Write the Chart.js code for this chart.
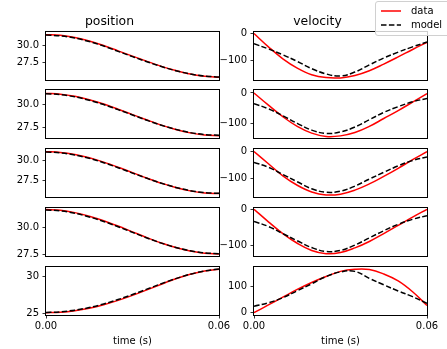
<!DOCTYPE html>
<html>
<head>
<meta charset="utf-8">
<script src="https://cdn.jsdelivr.net/npm/chart.js@4.4.0/dist/chart.umd.min.js"></script>
<style>
    body { margin: 0; width: 447px; height: 349px; overflow: hidden; background: #fff; position: relative; font-family: 'DejaVu Sans', sans-serif; }
    .box { position: absolute; }
    #legend { position: absolute; left: 375px; top: 1px; width: 76px; height: 33px; border: 1px solid #d0d0d0; border-radius: 3px; background: rgba(255,255,255,0.8); z-index: 5; font-size: 10px; color: #000; }
    .entry svg { position: absolute; left: 5px; }
    .entry span { position: absolute; left: 35px; line-height: 12px; white-space: nowrap; }
</style>
</head>
<body>
<div id="legend"></div>
<script>
// time axis shared by all panels
const times = [0, 0.005, 0.01, 0.015, 0.02, 0.025, 0.03, 0.035, 0.04, 0.045, 0.05, 0.055, 0.06];
const timeTicks = [0, 0.06];
const timeTickLabels = ["0.00", "0.06"];

const seriesNames = ["data", "model"];
const columnTitles = ["position", "velocity"];

// position panels (left column)
const posData1 = [31.50, 31.40, 31.10, 30.60, 29.95, 29.20, 28.45, 27.70, 27.00, 26.40, 25.90, 25.60, 25.45];
const posModel1 = [31.45, 31.33, 31.02, 30.52, 29.88, 29.13, 28.38, 27.65, 26.97, 26.38, 25.92, 25.62, 25.50];
const posData2 = [31.25, 31.17, 30.93, 30.55, 30.07, 29.50, 28.90, 28.30, 27.73, 27.25, 26.87, 26.63, 26.55];
const posModel2 = [31.22, 31.12, 30.87, 30.49, 30.01, 29.45, 28.86, 28.27, 27.72, 27.26, 26.90, 26.68, 26.60];
const posData3 = [31.08, 30.99, 30.73, 30.32, 29.78, 29.15, 28.47, 27.80, 27.17, 26.63, 26.21, 25.95, 25.87];
const posModel3 = [31.05, 30.94, 30.67, 30.25, 29.71, 29.09, 28.42, 27.77, 27.16, 26.64, 26.24, 25.99, 25.91];
const posData4 = [31.70, 31.63, 31.42, 31.09, 30.67, 30.17, 29.63, 29.09, 28.59, 28.17, 27.84, 27.63, 27.56];
const posModel4 = [31.67, 31.58, 31.36, 31.02, 30.60, 30.11, 29.58, 29.06, 28.58, 28.18, 27.87, 27.67, 27.60];
const posData5 = [25.05, 25.12, 25.33, 25.67, 26.15, 26.75, 27.44, 28.19, 28.97, 29.72, 30.35, 30.81, 31.05];
const posModel5 = [25.08, 25.17, 25.40, 25.75, 26.25, 26.86, 27.55, 28.30, 29.05, 29.75, 30.35, 30.80, 31.08];

// velocity panels (right column)
const velData1 = [0, -50, -95, -130, -155, -166, -167, -158, -140, -115, -88, -60, -33];
const velModel1 = [-38, -58, -80, -105, -132, -152, -160, -145, -118, -92, -70, -50, -32];
const velData2 = [0, -40, -78, -110, -132, -143, -141, -130, -110, -84, -58, -30, -2];
const velModel2 = [-35, -52, -75, -100, -122, -133, -128, -112, -88, -64, -45, -29, -18];
const velData3 = [0, -45, -90, -125, -150, -161, -158, -143, -120, -92, -62, -30, 0];
const velModel3 = [-40, -58, -85, -112, -138, -151, -147, -128, -102, -77, -53, -33, -20];
const velData4 = [0, -35, -68, -95, -115, -124, -121, -108, -90, -68, -45, -22, 0];
const velModel4 = [-34, -48, -68, -88, -107, -118, -115, -100, -80, -60, -42, -28, -18];
const velData5 = [0, 30, 60, 90, 117, 140, 160, 168, 167, 150, 123, 81, 28];
const velModel5 = [25, 38, 58, 85, 112, 140, 158, 160, 133, 108, 84, 62, 36];

// axis limits and ticks per row
const posMin = [25.06, 26.3, 25.45, 27.38, 24.73];
const posMax = [31.88, 31.63, 31.41, 31.85, 31.35];
const posTicks = [[27.5, 30], [27.5, 30], [27.5, 30], [27.5, 30], [25, 30]];
const posTickLabels = [["27.5", "30.0"], ["27.5", "30.0"], ["27.5", "30.0"], ["27.5", "30.0"], ["25", "30"]];

const velMin = [-175, -148, -168.6, -130.6, -9];
const velMax = [6, 9.7, 9.7, 3.6, 177];
const velTicks = [[-100, 0], [-100, 0], [-100, 0], [-100, 0], [0, 100]];
const velTickLabels = [["\u2212100", "0"], ["\u2212100", "0"], ["\u2212100", "0"], ["\u2212100", "0"], ["0", "100"]];

const posDataRows = [posData1, posData2, posData3, posData4, posData5];
const posModelRows = [posModel1, posModel2, posModel3, posModel4, posModel5];
const velDataRows = [velData1, velData2, velData3, velData4, velData5];
const velModelRows = [velModel1, velModel2, velModel3, velModel4, velModel5];

// layout of the grid
const rowTops = [32, 90, 149, 208, 267];
const plotHeight = 48;
const plotWidth = 173;
const axisWidth = 46;
const colLeft = [0, 208];
const colWidth = [233, 239];

Chart.defaults.font.family = "'DejaVu Sans', sans-serif";
Chart.defaults.font.size = 10;
Chart.defaults.color = '#000';

const framePlugin = {
    id: 'frame',
    afterDatasetsDraw(chart) {
        let a = chart.chartArea;
        let ctx = chart.ctx;
        ctx.save();
        ctx.strokeStyle = '#000';
        ctx.lineWidth = 1;
        ctx.strokeRect(a.left - 0.5, a.top - 0.5, a.right - a.left + 1, a.bottom - a.top + 1);
        ctx.restore();
    }
};

function toPoints(values) {
    return values.map((v, i) => ({x: times[i], y: v}));
}

function tickGrid() {
    return {display: true, drawOnChartArea: false, drawTicks: true, tickLength: 3.5, color: '#000', lineWidth: 0.8};
}

function makeChart(row, col) {
    let isPos = col === 0;
    let last = row === rowTops.length - 1;
    let top = rowTops[row];
    let canvasTop = row === 0 ? 0 : top - 12;
    let canvasBottom = last ? 349 : top + plotHeight + 12;

    let box = document.createElement('div');
    box.className = 'box';
    box.style.left = colLeft[col] + 'px';
    box.style.top = canvasTop + 'px';
    box.style.width = colWidth[col] + 'px';
    box.style.height = (canvasBottom - canvasTop) + 'px';
    let canvas = document.createElement('canvas');
    box.appendChild(canvas);
    document.body.appendChild(box);

    let dataVals = isPos ? posDataRows[row] : velDataRows[row];
    let modelVals = isPos ? posModelRows[row] : velModelRows[row];
    let yTicks = isPos ? posTicks[row] : velTicks[row];
    let yLabels = isPos ? posTickLabels[row] : velTickLabels[row];
    let smooth = isPos ? {cubicInterpolationMode: 'monotone'} : {tension: 0.4};

    let xScale = {
        type: 'linear',
        min: 0,
        max: 0.06,
        display: last,
        afterBuildTicks: s => { s.ticks = timeTicks.map(v => ({value: v})); },
        ticks: {autoSkip: false, maxRotation: 0, padding: 2, callback: (v, i) => timeTickLabels[i]},
        grid: tickGrid(),
        border: {display: false},
        title: {display: true, text: 'time (s)', font: {size: 10}, padding: {top: 0, bottom: 1.5}}
    };
    if (last) {
        xScale.afterFit = s => { s.height = 349 - (top + plotHeight); };
    }

    new Chart(canvas.getContext('2d'), {
        type: 'line',
        data: {
            datasets: [
                Object.assign({
                    label: seriesNames[0],
                    data: toPoints(dataVals),
                    borderColor: '#ff0000',
                    borderWidth: 1.5,
                    pointRadius: 0,
                    fill: false,
                    order: 1
                }, smooth),
                Object.assign({
                    label: seriesNames[1],
                    data: toPoints(modelVals),
                    borderColor: '#000000',
                    borderWidth: 1.5,
                    borderDash: [5.5, 2.4],
                    pointRadius: 0,
                    fill: false,
                    order: 0
                }, smooth)
            ]
        },
        options: {
            responsive: true,
            maintainAspectRatio: false,
            animation: false,
            events: [],
            layout: {
                padding: {
                    left: 0,
                    right: colWidth[col] - axisWidth - plotWidth,
                    top: row === 0 ? 0 : 12,
                    bottom: last ? 0 : 12
                }
            },
            plugins: {
                legend: {display: false},
                tooltip: {enabled: false},
                title: {
                    display: row === 0,
                    text: columnTitles[col],
                    color: '#000',
                    font: {size: 12.4, weight: 'normal', lineHeight: 1.2},
                    padding: {top: 14, bottom: 3.1}
                }
            },
            scales: {
                x: xScale,
                y: {
                    min: isPos ? posMin[row] : velMin[row],
                    max: isPos ? posMax[row] : velMax[row],
                    afterBuildTicks: s => { s.ticks = yTicks.map(v => ({value: v})); },
                    afterFit: s => { s.width = axisWidth; },
                    ticks: {autoSkip: false, padding: 3.5, callback: (v, i) => yLabels[i]},
                    grid: tickGrid(),
                    border: {display: false}
                }
            }
        },
        plugins: [framePlugin]
    });
}

function buildLegend() {
    let legend = document.getElementById('legend');
    let colors = ['#ff0000', '#000000'];
    let dashes = ['', '5.5,2.4'];
    seriesNames.forEach((name, i) => {
        let entry = document.createElement('div');
        entry.className = 'entry';
        let y = 9 + i * 14;
        entry.innerHTML = '<svg width="22" height="4" style="top:' + (y - 2) + 'px">' +
            '<line x1="0" y1="2" x2="20" y2="2" stroke="' + colors[i] + '" stroke-width="1.5" stroke-dasharray="' + dashes[i] + '"/></svg>' +
            '<span style="top:' + (y - 6) + 'px">' + name + '</span>';
        legend.appendChild(entry);
    });
}

for (let r = 0; r < rowTops.length; r++) {
    makeChart(r, 0);
    makeChart(r, 1);
}
buildLegend();
</script>
</body>
</html>
